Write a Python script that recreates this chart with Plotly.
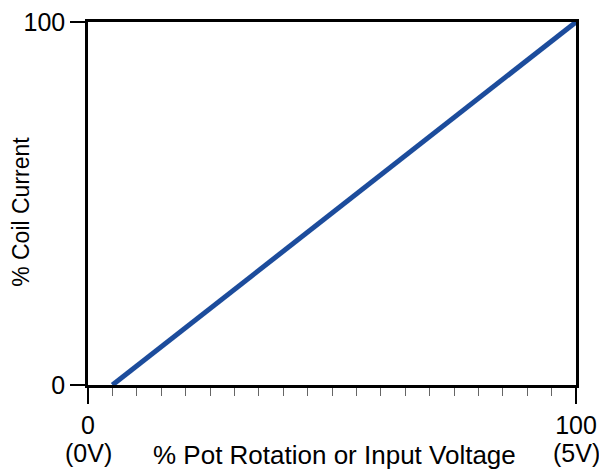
import plotly.graph_objects as go

# data
pot_pct = [5, 100]
coil_pct = [0, 100]
x_tickvals = [0, 100]
x_ticktext = ['0', '100']
x_sublabels = ['(0V)', '(5V)']
y_tickvals = [0, 100]
y_ticktext = ['0', '100']

fig = go.Figure()
fig.add_trace(go.Scatter(
    x=pot_pct, y=coil_pct, mode='lines',
    line=dict(color='#1c4c9c', width=5),
    showlegend=False, cliponaxis=False,
))

font = dict(family='Liberation Sans, Arial, sans-serif', color='black')

fig.update_layout(
    width=599, height=469,
    margin=dict(l=88, r=23, t=22, b=84, autoexpand=False),
    plot_bgcolor='white', paper_bgcolor='white',
    font=dict(size=25, **font),
)

fig.update_xaxes(
    range=[0, 100], tickvals=x_tickvals, ticktext=x_ticktext,
    ticks='outside', ticklen=16, tickwidth=1.5, tickcolor='black',
    showline=True, linecolor='black', linewidth=2.5, mirror=True,
    showgrid=False, zeroline=False, automargin=False,
    minor=dict(dtick=5, ticks='outside', ticklen=8, tickwidth=1.2,
               tickcolor='#666666', showgrid=False),
)
fig.update_yaxes(
    range=[0, 100], tickvals=y_tickvals, ticktext=y_ticktext,
    ticks='outside', ticklen=15, tickwidth=1.5, tickcolor='black',
    showline=True, linecolor='black', linewidth=2.5, mirror=True,
    showgrid=False, zeroline=False, automargin=False,
)

# voltage sub-labels under the end ticks
for xv, t in zip(x_tickvals, x_sublabels):
    fig.add_annotation(x=xv, xref='x', y=-0.186, yref='paper', yanchor='middle',
                       text=t, showarrow=False, font=dict(size=25, **font))

fig.add_annotation(x=0.506, xref='paper', y=-0.193, yref='paper', yanchor='middle',
                   text='% Pot Rotation or Input Voltage', showarrow=False,
                   font=dict(size=26, **font))
fig.add_annotation(x=-0.168, xref='paper', y=0.477, yref='paper',
                   text='% Coil Current', textangle=-90, showarrow=False,
                   font=dict(size=23, **font))

fig.write_html('out.html', config={'displayModeBar': False},
               post_script="document.body.style.margin='0';")
